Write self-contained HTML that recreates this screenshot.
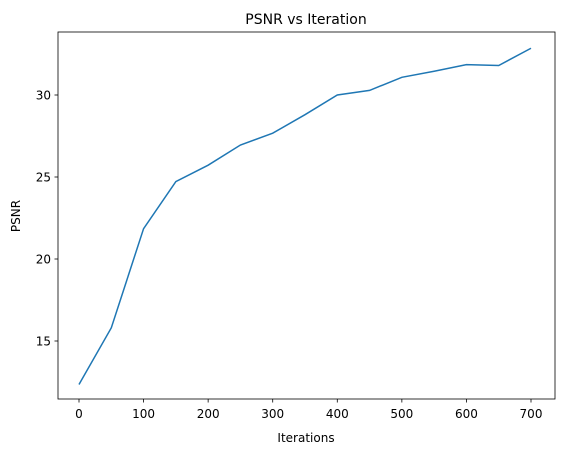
<!DOCTYPE html>
<html><head><meta charset="utf-8"><style>
body{margin:0;background:#fff;font-family:"Liberation Sans","DejaVu Sans",sans-serif;}
svg text{font-family:"DejaVu Sans","Liberation Sans",sans-serif;}
</style></head><body>
<svg id="chart" width="562" height="455" viewBox="0 0 562 455">
<rect width="562" height="455" fill="#fff"/>
<text x="306" y="24" font-size="14" text-anchor="middle">PSNR vs Iteration</text>
<g id="ticks"></g>
<path id="line" fill="none" stroke="#1f77b4" stroke-width="1.5"/>
<rect x="58" y="32" width="497" height="367" fill="none" stroke="#000" stroke-width="0.8"/>
<text x="306" y="442" font-size="12" text-anchor="middle">Iterations</text>
<text x="20" y="216" font-size="12" text-anchor="middle" transform="rotate(-90 20 216)">PSNR</text>
</svg>
<script>
const iterations=[0,50,100,150,200,250,300,350,400,450,500,550,600,650,700];
const psnr=[12.35,15.8,21.85,24.72,25.72,26.95,27.67,28.8,30.0,30.28,31.08,31.45,31.85,31.8,32.85];
const xTicks=[0,100,200,300,400,500,600,700];
const yTicks=[15,20,25,30];
const xs=v=>79+v*(531-79)/700;
const ys=v=>341-(v-15)*(82/5);
const NS="http://www.w3.org/2000/svg";
const g=document.getElementById('ticks');
function mk(t,a){const e=document.createElementNS(NS,t);for(const k in a)e.setAttribute(k,a[k]);g.appendChild(e);return e;}
xTicks.forEach(v=>{
  const l=mk('line',{x1:xs(v),x2:xs(v),y1:399,y2:402.5,stroke:'#000','stroke-width':0.8});
  
  
  const t=mk('text',{x:xs(v),y:418,'font-size':12,'text-anchor':'middle'});
  t.textContent=v;
  
  
});
yTicks.forEach(v=>{
  const l=mk('line',{x1:54.5,x2:58,y1:ys(v),y2:ys(v),stroke:'#000','stroke-width':0.8});
  
  
  const t=mk('text',{x:51,y:ys(v)+4.5,'font-size':12,'text-anchor':'end'});
  t.textContent=v;
  
  
});
document.getElementById('line').setAttribute('d',iterations.map((v,i)=>(i?'L':'M')+xs(v).toFixed(2)+','+ys(psnr[i]).toFixed(2)).join(''));
</script>
</body></html>
